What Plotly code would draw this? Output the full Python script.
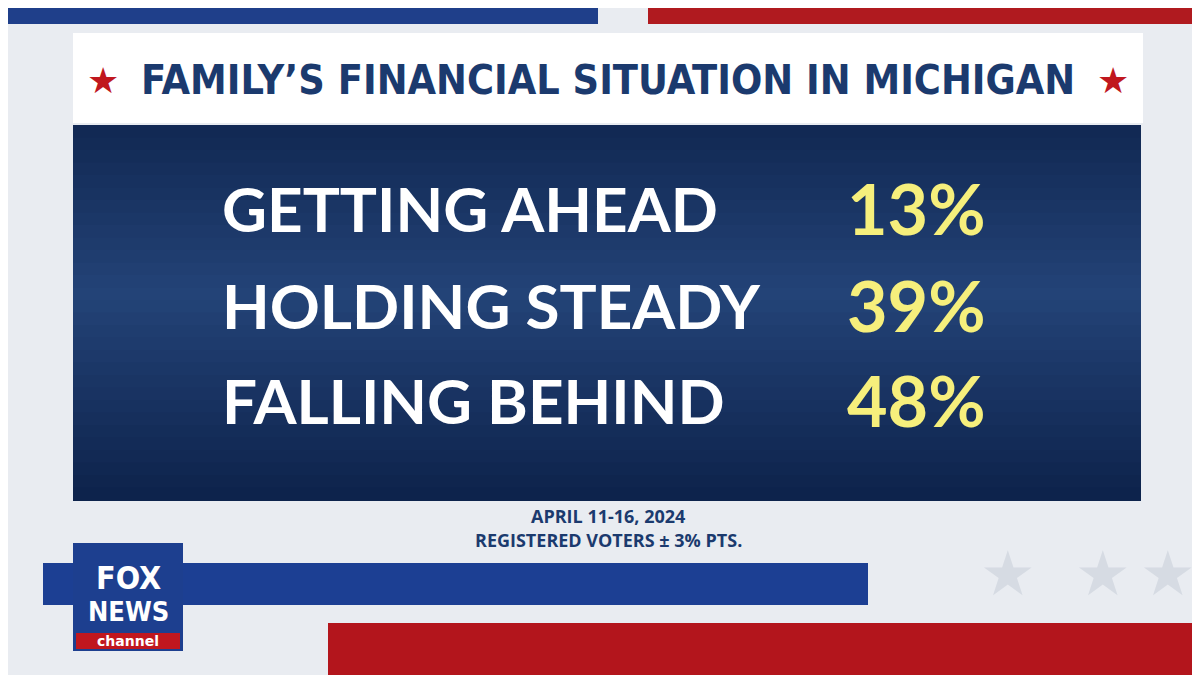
import plotly.graph_objects as go

title = "FAMILY’S FINANCIAL SITUATION IN MICHIGAN"
categories = ["GETTING AHEAD", "HOLDING STEADY", "FALLING BEHIND"]
values = [13, 39, 48]
footer = ["APRIL 11-16, 2024", "REGISTERED VOTERS ± 3% PTS."]

navy = "#1b3a6e"
fig = go.Figure()

def rect(x0, y0, x1, y1, color):
    fig.add_shape(type="rect", x0=x0, y0=y0, x1=x1, y1=y1, fillcolor=color,
                  line=dict(width=0), layer="below")

# background stripes
rect(0, 0, 1200, 675, "#e9ecf1")
rect(0, 0, 590, 16, "#1f3f8a")
rect(640, 0, 1200, 16, "#b01a1f")
rect(35, 555, 860, 597, "#1c3f93")
rect(320, 615, 1200, 675, "#b3151c")
# title box
rect(65, 25, 1135, 115, "white")
# panel with vertical gradient
steps = 30
for i in range(steps):
    t = i / (steps - 1)
    m = 1 - abs(t - 0.45) * 2
    r = int(16 + 20 * m); g = int(38 + 30 * m); b = int(80 + 40 * m)
    rect(65, 117 + i * 375 / steps, 1133, 117 + (i + 1) * 375 / steps + 1, f"rgb({r},{g},{b})")

ann = []
ann.append(dict(x=600, y=72, text="<b>" + title + "</b>", showarrow=False,
                font=dict(family="DejaVu Sans Condensed", size=41, color=navy)))
for sx in (95, 1105):
    ann.append(dict(x=sx, y=72, text="★", showarrow=False,
                    font=dict(family="DejaVu Sans", size=36, color="#c0171e")))
ys = [200, 297, 392]
for c, v, y in zip(categories, values, ys):
    ann.append(dict(x=212, y=y, text=f"<b>{c}</b>", showarrow=False, xanchor="left",
                    font=dict(family="Lato", size=62, color="white")))
    ann.append(dict(x=980, y=y, text=f"<b>{v}%</b>", showarrow=False, xanchor="right",
                    font=dict(family="Lato", size=70, color="#f6ef7c")))
for t, y in zip(footer, [508, 532]):
    ann.append(dict(x=600, y=y, text=f"<b>{t}</b>", showarrow=False,
                    font=dict(family="Open Sans", size=18, color=navy)))
# stars bottom right
for sx in (1000, 1095, 1160):
    ann.append(dict(x=sx, y=565, text="★", showarrow=False,
                    font=dict(family="DejaVu Sans", size=62, color="#d6dbe3")))
# logo
rect(65, 535, 175, 643, "#1d3f8f")
rect(68, 625, 172, 641, "#c0171e")
ann.append(dict(x=120, y=570, text="<b>FOX</b>", showarrow=False,
                font=dict(family="DejaVu Sans Condensed", size=32, color="white")))
ann.append(dict(x=120, y=603, text="<b>NEWS</b>", showarrow=False,
                font=dict(family="DejaVu Sans Condensed", size=27, color="white")))
ann.append(dict(x=120, y=633, text="<b>channel</b>", showarrow=False,
                font=dict(family="DejaVu Sans", size=14, color="white")))

fig.update_layout(width=1200, height=675, margin=dict(l=0, r=0, t=0, b=0),
                  annotations=ann, showlegend=False,
                  paper_bgcolor="#e9ecf1", plot_bgcolor="#e9ecf1",
                  xaxis=dict(range=[0, 1200], visible=False, fixedrange=True),
                  yaxis=dict(range=[675, 0], visible=False, fixedrange=True))
fig.write_html("out.html")
